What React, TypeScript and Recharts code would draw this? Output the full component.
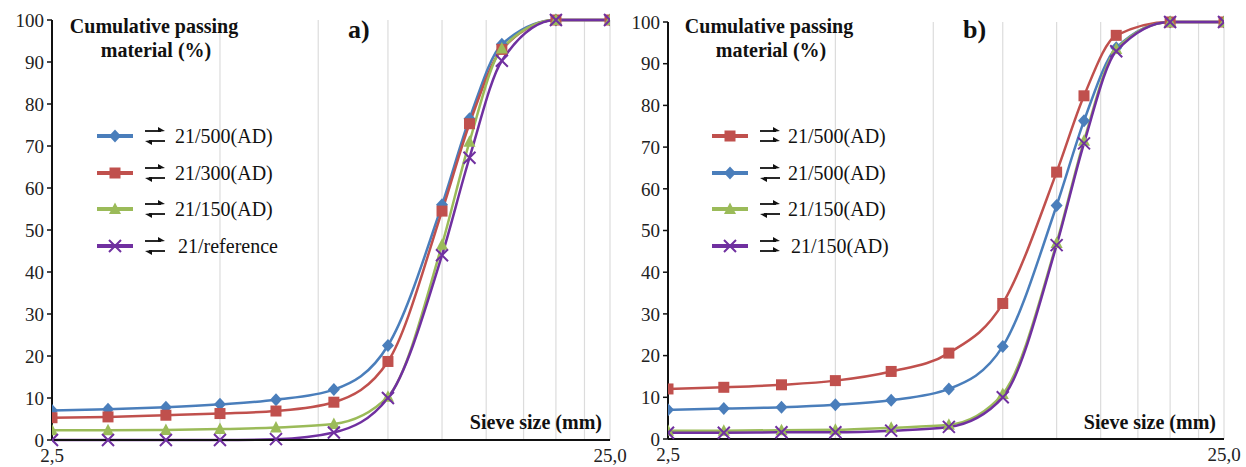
import { CartesianGrid, Line, LineChart, XAxis, YAxis } from "recharts";

const sieveSizes = [2.5, 3.15, 4, 5, 6.3, 8, 10, 12.5, 14, 16, 20, 25];
const gridTicks = [2.5, 5, 7.5, 10, 12.5, 15, 17.5, 20, 22.5, 25];
const yTicks = [0, 10, 20, 30, 40, 50, 60, 70, 80, 90, 100];

// panel a)
const a500 = [7, 7.3, 7.8, 8.5, 9.6, 12, 22.5, 56, 76.5, 94.2, 100, 100];
const a300 = [5.3, 5.5, 5.9, 6.3, 6.9, 9, 18.7, 54.5, 75.3, 93, 100, 100];
const a150 = [2.3, 2.3, 2.4, 2.6, 3, 3.8, 10.3, 46.5, 71, 93.2, 100, 100];
const aRef = [0, 0, 0, 0, 0.2, 1.8, 10, 44, 67.2, 90.3, 100, 100];

// panel b)
const b500same = [12, 12.4, 13, 14, 16.2, 20.6, 32.5, 64, 82.3, 96.8, 100, 100];
const b500swap = [7, 7.3, 7.6, 8.2, 9.3, 12, 22.2, 56, 76.3, 93.8, 100, 100];
const b150swap = [2, 2, 2.1, 2.2, 2.7, 3.4, 10.8, 47, 71.5, 93.5, 100, 100];
const b150same = [1.5, 1.5, 1.6, 1.6, 2, 2.9, 10, 46.5, 70.9, 93, 100, 100];

const BLUE = "#4a7ebb";
const RED = "#c0504d";
const GREEN = "#9bbb59";
const PURPLE = "#7030a0";
const FONT = '"Liberation Serif", "Times New Roman", serif';

type Shape = "diamond" | "square" | "triangle" | "cross";
type Series = {
  key: string;
  name: string;
  color: string;
  shape: Shape;
  arrows: "swap" | "same";
  values: number[];
};

const seriesA: Series[] = [
  { key: "s1", name: "21/500(AD)", color: BLUE, shape: "diamond", arrows: "swap", values: a500 },
  { key: "s2", name: "21/300(AD)", color: RED, shape: "square", arrows: "swap", values: a300 },
  { key: "s3", name: "21/150(AD)", color: GREEN, shape: "triangle", arrows: "swap", values: a150 },
  { key: "s4", name: "21/reference", color: PURPLE, shape: "cross", arrows: "swap", values: aRef },
];

const seriesB: Series[] = [
  { key: "s1", name: "21/500(AD)", color: RED, shape: "square", arrows: "same", values: b500same },
  { key: "s2", name: "21/500(AD)", color: BLUE, shape: "diamond", arrows: "swap", values: b500swap },
  { key: "s3", name: "21/150(AD)", color: GREEN, shape: "triangle", arrows: "swap", values: b150swap },
  { key: "s4", name: "21/150(AD)", color: PURPLE, shape: "cross", arrows: "same", values: b150same },
];

// draw order: blue/red first, purple on top
const drawOrderB = ["s2", "s1", "s3", "s4"];

function buildRows(series: Series[]) {
  return sieveSizes.map((x, i) => {
    const row: Record<string, number> = { x };
    series.forEach((s) => (row[s.key] = s.values[i]));
    return row;
  });
}

function Marker({ cx, cy, shape, color }: { cx: number; cy: number; shape: Shape; color: string }) {
  if (cx == null || cy == null) return null;
  if (shape === "diamond")
    return <path d={`M${cx},${cy - 6.5} L${cx + 6},${cy} L${cx},${cy + 6.5} L${cx - 6},${cy} Z`} fill={color} />;
  if (shape === "square") return <rect x={cx - 5.5} y={cy - 5.5} width={11} height={11} fill={color} />;
  if (shape === "triangle")
    return <path d={`M${cx},${cy - 6.5} L${cx + 6},${cy + 5} L${cx - 6},${cy + 5} Z`} fill={color} />;
  return (
    <path
      d={`M${cx - 6},${cy - 6} L${cx + 6},${cy + 6} M${cx + 6},${cy - 6} L${cx - 6},${cy + 6}`}
      stroke={color}
      strokeWidth={2}
      fill="none"
    />
  );
}

function Arrows({ x, y, kind }: { x: number; y: number; kind: "swap" | "same" }) {
  const w = 20;
  const right = (yy: number) => (
    <g>
      <line x1={x} y1={yy} x2={x + w - 4} y2={yy} stroke="#111" strokeWidth={1.8} />
      <path d={`M${x + w},${yy} L${x + w - 7},${yy - 4} L${x + w - 7},${yy + 1} Z`} fill="#111" />
    </g>
  );
  const left = (yy: number) => (
    <g>
      <line x1={x + 4} y1={yy} x2={x + w} y2={yy} stroke="#111" strokeWidth={1.8} />
      <path d={`M${x},${yy} L${x + 7},${yy + 4} L${x + 7},${yy - 1} Z`} fill="#111" />
    </g>
  );
  return (
    <g>
      {right(y - 5)}
      {kind === "swap" ? left(y + 5) : right(y + 5)}
    </g>
  );
}

function Overlay({
  series,
  lineX,
  textX,
  titleX,
  tag,
  tagX,
  sieveX,
}: {
  series: Series[];
  lineX: number;
  textX: number;
  titleX: number;
  tag: string;
  tagX: number;
  sieveX: number;
}) {
  const rows = [136, 173, 209, 246];
  return (
    <g fontFamily={FONT}>
      <text x={titleX} y={33} textAnchor="middle" fontWeight="bold" fontSize={20} fill="#111">
        Cumulative passing
      </text>
      <text x={titleX + 2} y={57} textAnchor="middle" fontWeight="bold" fontSize={20} fill="#111">
        material (%)
      </text>
      <text x={tagX} y={38} fontWeight="bold" fontSize={26} fill="#111">
        {tag}
      </text>
      <text x={sieveX} y={429} textAnchor="end" fontWeight="bold" fontSize={20} fill="#111">
        Sieve size (mm)
      </text>
      {series.map((s, i) => (
        <g key={s.key}>
          <line x1={lineX} y1={rows[i]} x2={lineX + 36} y2={rows[i]} stroke={s.color} strokeWidth={4} />
          <Marker cx={lineX + 18} cy={rows[i]} shape={s.shape} color={s.color} />
          <Arrows x={lineX + 48} y={rows[i]} kind={s.arrows} />
          <text x={textX + (i === 3 ? 3 : 0)} y={rows[i] + 7} fontSize={20} fill="#111">
            {s.name}
          </text>
        </g>
      ))}
    </g>
  );
}

function Panel({
  series,
  order,
  width,
  margin,
  xHeight,
}: {
  series: Series[];
  order: string[];
  width: number;
  margin: { top: number; right: number; left: number; bottom: number };
  xHeight: number;
}) {
  const data = buildRows(series);
  return (
    <LineChart width={width} height={467} data={data} margin={margin}>
      <CartesianGrid horizontal={false} stroke="#dcdcdc" strokeWidth={1.2} />
      <XAxis
        dataKey="x"
        type="number"
        scale="log"
        domain={[2.5, 25]}
        ticks={gridTicks}
        allowDataOverflow
        interval={0}
        height={xHeight}
        tickLine={false}
        tickSize={0}
        tickMargin={9}
        tickFormatter={(v: number) => (v === 2.5 ? "2,5" : v === 25 ? "25,0" : "")}
        axisLine={{ stroke: "#111", strokeWidth: 2 }}
        tick={{ fill: "#222", fontSize: 19, fontFamily: FONT }}
      />
      <YAxis
        type="number"
        domain={[0, 100]}
        ticks={yTicks}
        interval={0}
        width={40}
        tickSize={5}
        tickMargin={3}
        axisLine={{ stroke: "#111", strokeWidth: 2 }}
        tickLine={{ stroke: "#111", strokeWidth: 1.5 }}
        tick={{ fill: "#222", fontSize: 19, fontFamily: FONT }}
      />
      {order.map((k) => {
        const s = series.find((q) => q.key === k)!;
        return (
          <Line
            key={k}
            dataKey={k}
            type="monotone"
            stroke={s.color}
            strokeWidth={2.5}
            isAnimationActive={false}
            dot={(p: any) => (
              <Marker key={`${k}-${p.index}`} cx={p.cx} cy={p.cy} shape={s.shape} color={s.color} />
            )}
            activeDot={false}
          />
        );
      })}
    </LineChart>
  );
}

export default function App() {
  return (
    <div style={{ position: "absolute", left: 0, top: 0, width: 1246, height: 467, background: "#fff" }}>
      <div style={{ position: "absolute", left: 0, top: 0 }}>
        <Panel
          series={seriesA}
          order={["s1", "s2", "s3", "s4"]}
          width={640}
          margin={{ top: 20, right: 30, left: 12, bottom: 0 }}
          xHeight={27}
        />
      </div>
      <div style={{ position: "absolute", left: 620, top: 0 }}>
        <Panel
          series={seriesB}
          order={drawOrderB}
          width={626}
          margin={{ top: 22, right: 22, left: 8, bottom: 0 }}
          xHeight={28}
        />
      </div>
      <svg width={1246} height={467} style={{ position: "absolute", left: 0, top: 0, pointerEvents: "none" }}>
        <Overlay series={seriesA} lineX={97} textX={175} titleX={154} tag="a)" tagX={348} sieveX={602} />
        <Overlay series={seriesB} lineX={712} textX={788} titleX={769} tag="b)" tagX={963} sieveX={1216} />
      </svg>
    </div>
  );
}
